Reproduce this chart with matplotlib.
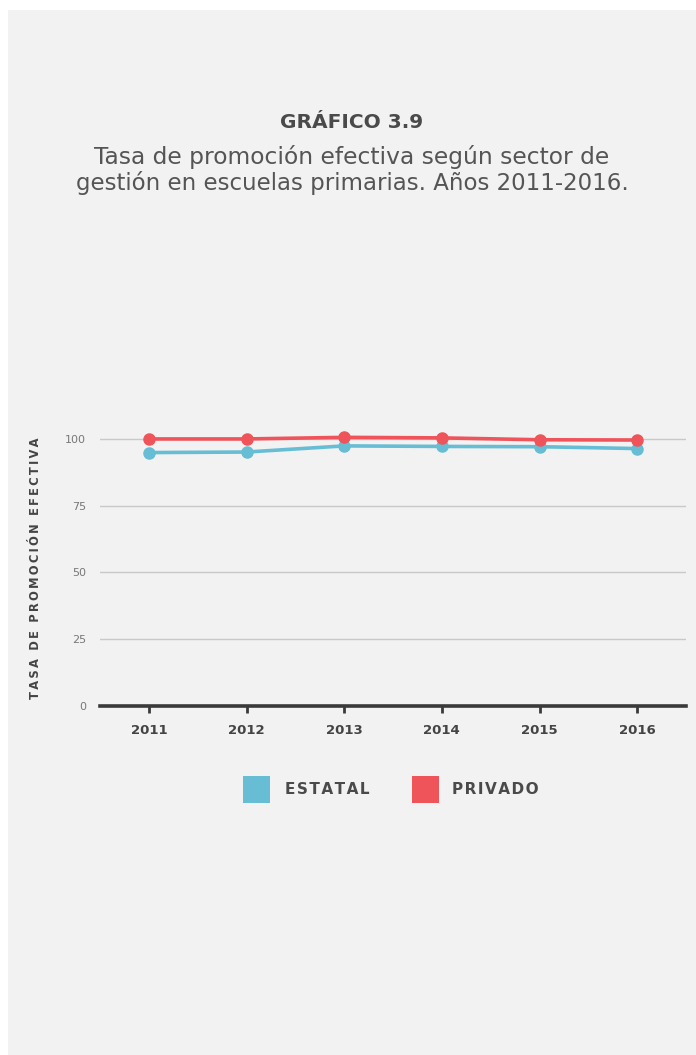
import matplotlib
matplotlib.use("Agg")
import matplotlib.pyplot as plt
from matplotlib.patches import Rectangle

years = [2011, 2012, 2013, 2014, 2015, 2016]
estatal = [94.9, 95.1, 97.4, 97.2, 97.1, 96.4]
privado = [100.0, 100.0, 100.6, 100.4, 99.7, 99.6]
yticks = [0, 25, 50, 75, 100]
series_names = ["ESTATAL", "PRIVADO"]
colors = ["#67bdd4", "#f0545b"]

plt.rcParams['font.family'] = ['DejaVu Sans']

def spaced(s, sep="\u200a"):
    return sep.join(s)

W, H = 696, 1055
fig = plt.figure(figsize=(W / 100, H / 100), dpi=100)
fig.patch.set_facecolor("white")
fig.add_artist(Rectangle((8 / W, 0), 1, (H - 10) / H, transform=fig.transFigure,
                         facecolor="#f2f2f2", edgecolor="none", zorder=0))

fig.text(352 / W, 1 - 123 / H, "GRÁFICO 3.9", ha="center", va="center",
         fontsize=14.5, fontweight="bold", color="#4a4a4a")
fig.text(352 / W, 1 - 157 / H, "Tasa de promoción efectiva según sector de",
         ha="center", va="center", fontsize=16.8, color="#555555")
fig.text(352 / W, 1 - 183 / H, "gestión en escuelas primarias. Años 2011-2016.",
         ha="center", va="center", fontsize=16.5, color="#555555")

ax_left, ax_right = 100 / W, 686 / W
ax_bottom = (H - 706) / H
ax_top = (H - 425.6) / H
ax = fig.add_axes([ax_left, ax_bottom, ax_right - ax_left, ax_top - ax_bottom])
ax.set_facecolor("none")
ax.set_xlim(2010.5, 2016.5)
ax.set_ylim(0, 105)

for t in yticks[1:]:
    ax.axhline(t, color="#c9c9c9", lw=1.0, zorder=1)
ax.axhline(0, color="#3a3a3a", lw=2.6, zorder=2, clip_on=False)

ax.plot(years, estatal, color=colors[0], lw=2.6, marker="o", ms=8, zorder=3, clip_on=False)
ax.plot(years, privado, color=colors[1], lw=2.6, marker="o", ms=8, zorder=4, clip_on=False)

for s in ax.spines.values():
    s.set_visible(False)
ax.set_yticks(yticks)
ax.set_yticklabels([str(t) for t in yticks], fontsize=8, color="#777777")
ax.tick_params(axis="y", length=0, pad=10)
ax.set_xticks(years)
ax.set_xticklabels([str(y) for y in years], fontsize=9.5, fontweight="semibold", color="#444444")
ax.tick_params(axis="x", length=5, width=2, color="#3a3a3a", pad=8)

fig.text(36 / W, 1 - 568 / H, spaced("TASA DE PROMOCIÓN EFECTIVA", "\u2009"), rotation=90,
         ha="center", va="center", fontsize=8.3, fontweight="bold", color="#444444")

# legend
sq = 27
for name, col, x0, tx in [(series_names[0], colors[0], 243, 285), (series_names[1], colors[1], 412, 452)]:
    fig.add_artist(Rectangle((x0 / W, 1 - 803 / H), sq / W, sq / H, transform=fig.transFigure,
                             facecolor=col, edgecolor="none"))
    fig.text(tx / W, 1 - 790 / H, spaced(name), ha="left", va="center", fontsize=11,
             fontweight="bold", color="#4a4a4a")

fig.savefig("out.png", dpi=100, facecolor=fig.get_facecolor())
